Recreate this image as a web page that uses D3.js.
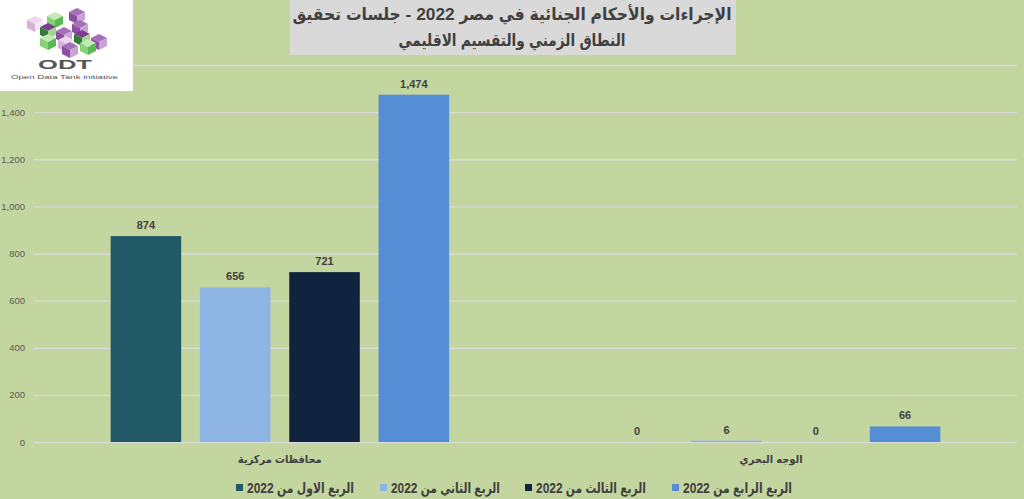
<!DOCTYPE html>
<html>
<head>
<meta charset="utf-8">
<script src="https://cdn.jsdelivr.net/npm/d3@7"></script>
<style>
  body { margin: 0; background: #c4d69f; }
  text { font-family: "Liberation Sans", Arial, "DejaVu Sans", sans-serif; }
  text.ar { font-family: "Liberation Sans", "DejaVu Sans Condensed", "DejaVu Sans", sans-serif; }
</style>
</head>
<body>
<div id="vis"></div>
<script>
// chart data
var categories = ['محافظات مركزية', 'الوجه البحري'];
var seriesNames = ['الربع الاول من 2022', 'الربع الثاني من 2022', 'الربع الثالث من 2022', 'الربع الرابع من 2022'];
var seriesColors = ['#215967', '#8eb4e3', '#10243f', '#558ed5'];
var q1Values = [874, 0];
var q2Values = [656, 6];
var q3Values = [721, 0];
var q4Values = [1474, 66];
var yTicks = [0, 200, 400, 600, 800, 1000, 1200, 1400, 1600];
var titleLines = ['الإجراءات والأحكام الجنائية في مصر 2022 - جلسات تحقيق', 'النطاق الزمني والتقسيم الاقليمي'];

var width = 1024;
var height = 499;
var margin = { top: 65, right: 7, bottom: 57, left: 34 };

var seriesValues = [q1Values, q2Values, q3Values, q4Values];

var svg = d3.select('#vis')
  .append('svg')
  .attr('width', width)
  .attr('height', height);

svg.append('rect')
  .attr('width', width)
  .attr('height', height)
  .attr('fill', '#c4d69f');

var x0 = d3.scaleBand()
  .domain(categories)
  .range([margin.left, width - margin.right])
  .paddingInner(0.311)
  .paddingOuter(0.156);

var x1 = d3.scaleBand()
  .domain(d3.range(seriesNames.length))
  .range([0, x0.bandwidth()])
  .paddingInner(0.21);

var y = d3.scaleLinear()
  .domain([0, 1600])
  .range([height - margin.bottom, margin.top]);

// gridlines + y labels
var yAxis = d3.axisLeft(y)
  .tickValues(yTicks)
  .tickSize(-(width - margin.left - margin.right))
  .tickPadding(9)
  .tickFormat(d3.format(','));

var yG = svg.append('g')
  .attr('transform', 'translate(' + margin.left + ',0)')
  .call(yAxis);

yG.select('.domain').remove();
yG.selectAll('.tick line')
  .attr('stroke', '#d9d9d9')
  .attr('stroke-width', 1.3);
yG.selectAll('.tick text')
  .attr('fill', '#595959')
  .style('font-size', '9.5px');

// bars
function cellData(d, i) {
  return seriesValues.map(function (vals, s) { return { s: s, value: vals[i] }; });
}

var groups = svg.selectAll('.cat')
  .data(categories)
  .enter().append('g')
  .attr('class', 'cat')
  .attr('transform', function (d) { return 'translate(' + x0(d) + ',0)'; });

groups.selectAll('rect')
  .data(cellData)
  .enter().append('rect')
  .attr('x', function (d) { return x1(d.s); })
  .attr('y', function (d) { return y(d.value); })
  .attr('width', x1.bandwidth())
  .attr('height', function (d) { return y(0) - y(d.value); })
  .attr('fill', function (d) { return seriesColors[d.s]; });

groups.selectAll('.val')
  .data(cellData)
  .enter().append('text')
  .attr('class', 'val')
  .attr('x', function (d) { return x1(d.s) + x1.bandwidth() / 2; })
  .attr('y', function (d) { return y(d.value) - 7; })
  .attr('text-anchor', 'middle')
  .attr('fill', '#404040')
  .style('font-size', '11px')
  .style('font-weight', 'bold')
  .text(function (d) { return d3.format(',')(d.value); });

// category labels
svg.selectAll('.catlabel')
  .data(categories)
  .enter().append('text')
  .attr('class', 'catlabel ar')
  .attr('x', function (d) { return x0(d) + x0.bandwidth() / 2; })
  .attr('y', 463)
  .attr('text-anchor', 'middle')
  .attr('direction', 'rtl')
  .attr('fill', '#404040')
  .style('font-size', '11px')
  .style('font-weight', 'bold')
  .text(function (d) { return d; });

// legend
var legendX = [236, 380, 525, 672];
var legendW = [107, 109, 110, 109];
var legend = svg.selectAll('.legend')
  .data(seriesNames)
  .enter().append('g')
  .attr('class', 'legend')
  .attr('transform', function (d, i) { return 'translate(' + legendX[i] + ',488)'; });

legend.append('rect')
  .attr('x', 0)
  .attr('y', -4)
  .attr('width', 7)
  .attr('height', 7)
  .attr('fill', function (d, i) { return seriesColors[i]; });

legend.append('text')
  .attr('class', 'ar')
  .attr('x', 11)
  .attr('y', 5)
  .attr('direction', 'rtl')
  .attr('text-anchor', 'end')
  .attr('textLength', function (d, i) { return legendW[i]; })
  .attr('lengthAdjust', 'spacingAndGlyphs')
  .attr('fill', '#404040')
  .style('font-size', '14px')
  .style('font-weight', 'bold')
  .text(function (d) { return d; });

// title box
svg.append('rect')
  .attr('x', 290)
  .attr('y', 0)
  .attr('width', 446)
  .attr('height', 55)
  .attr('fill', '#d9d9d9');

var titleW = [439, 227];
svg.selectAll('.title')
  .data(titleLines)
  .enter().append('text')
  .attr('class', 'title ar')
  .attr('x', 512)
  .attr('y', function (d, i) { return 20 + i * 26; })
  .attr('text-anchor', 'middle')
  .attr('direction', 'rtl')
  .attr('textLength', function (d, i) { return titleW[i]; })
  .attr('lengthAdjust', 'spacingAndGlyphs')
  .attr('fill', '#404040')
  .style('font-size', '17px')
  .style('font-weight', 'bold')
  .text(function (d) { return d; });

// logo
var logo = svg.append('g');
logo.append('rect')
  .attr('width', 133)
  .attr('height', 91)
  .attr('fill', '#ffffff');

var cubes = [
  { x: 27, y: 20, c: 'l' }, { x: 47, y: 16, c: 'g' }, { x: 69, y: 12, c: 'p' },
  { x: 40, y: 27, c: 'd' }, { x: 56, y: 31, c: 'p' }, { x: 72, y: 24, c: 'p' },
  { x: 40, y: 38, c: 'g' }, { x: 58, y: 40, c: 'l' }, { x: 74, y: 34, c: 'd' },
  { x: 91, y: 38, c: 'p' }, { x: 62, y: 46, c: 'p' }, { x: 80, y: 43, c: 'g' }
];
var cubeCols = {
  l: ['#ecd7ec', '#d6b0da', '#f4e8f4'],
  g: ['#c4e9b8', '#86d277', '#5cb855'],
  p: ['#a66fb8', '#8e4fa3', '#c9a2d6'],
  d: ['#7b3e8c', '#2f7d32', '#9fd98d']
};
var s = 8;
cubes.forEach(function (cb) {
  var col = cubeCols[cb.c];
  var g = logo.append('g').attr('transform', 'translate(' + cb.x + ',' + cb.y + ')');
  g.append('path').attr('d', 'M0,0 L' + s + ',-' + s / 2 + ' L' + 2 * s + ',0 L' + s + ',' + s / 2 + 'Z').attr('fill', col[0]);
  g.append('path').attr('d', 'M0,0 L' + s + ',' + s / 2 + ' L' + s + ',' + (s * 1.5) + ' L0,' + s + 'Z').attr('fill', col[1]);
  g.append('path').attr('d', 'M' + s + ',' + s / 2 + ' L' + 2 * s + ',0 L' + 2 * s + ',' + s + ' L' + s + ',' + (s * 1.5) + 'Z').attr('fill', col[2]);
});

logo.append('text')
  .attr('x', 38)
  .attr('y', 69)
  .attr('textLength', 54)
  .attr('lengthAdjust', 'spacingAndGlyphs')
  .attr('fill', '#555555')
  .style('font-size', '13px')
  .style('font-weight', '600')
  .text('ODT');

logo.append('text')
  .attr('x', 11)
  .attr('y', 79)
  .attr('textLength', 107)
  .attr('lengthAdjust', 'spacingAndGlyphs')
  .attr('fill', '#555555')
  .style('font-size', '6px')
  .text('Open Data Tank initiative');
</script>
</body>
</html>
